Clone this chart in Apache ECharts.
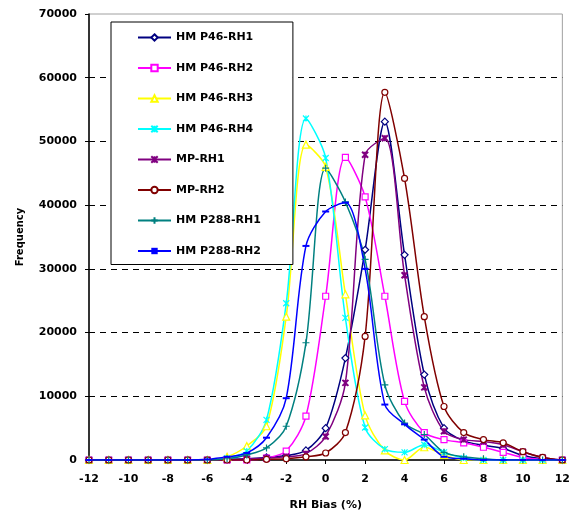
<!DOCTYPE html>
<html><head><meta charset="utf-8">
<script src="https://cdn.jsdelivr.net/npm/echarts@6/dist/echarts.min.js"></script>
<style>html,body{margin:0;padding:0;background:#fff}#c{width:573px;height:516px}</style>
</head><body><div id="c"></div><script>
const xValues = [-12,-11,-10,-9,-8,-7,-6,-5,-4,-3,-2,-1,0,1,2,3,4,5,6,7,8,9,10,11,12];
const seriesNames = ['HM P46-RH1','HM P46-RH2','HM P46-RH3','HM P46-RH4','MP-RH1','MP-RH2','HM P288-RH1','HM P288-RH2'];
const hmP46Rh1 = [0,0,0,0,0,0,0,100,200,400,700,1500,5000,16000,33000,53100,32200,13400,5000,3000,2300,1800,700,200,0];
const hmP46Rh2 = [0,0,0,0,0,0,0,0,0,300,1400,6900,25700,47500,41300,25700,9200,4300,3200,2700,2000,1200,400,100,0];
const hmP46Rh3 = [0,0,0,0,0,0,0,500,2200,5300,22500,49500,46000,26000,7000,1500,0,2000,800,0,0,0,0,0,0];
const hmP46Rh4 = [0,0,0,0,0,0,0,300,1400,6300,24600,53600,47400,22300,5100,1700,1200,2400,1200,300,0,0,0,0,0];
const mpRh1 = [0,0,0,0,0,0,0,0,200,300,500,1000,3700,12100,47900,50500,29000,11400,4500,3200,2900,2400,1300,400,0];
const mpRh2 = [0,0,0,0,0,0,0,0,0,100,200,500,1100,4300,19400,57700,44200,22500,8400,4300,3200,2700,1300,400,0];
const hmP288Rh1 = [0,0,0,0,0,0,0,200,800,1900,5300,18400,45800,40500,31500,11800,5800,4000,1200,500,200,0,0,0,0];
const hmP288Rh2 = [0,0,0,0,0,0,100,500,1100,3500,9700,33600,39000,40400,30000,8700,5600,3200,500,200,0,0,0,0,0];

const allData = [hmP46Rh1,hmP46Rh2,hmP46Rh3,hmP46Rh4,mpRh1,mpRh2,hmP288Rh1,hmP288Rh2];
const colors = ['#000080','#FF00FF','#FFFF00','#00FFFF','#800080','#800000','#008080','#0000FF'];
const asterisk = 'path://M0,0L10,10M10,0L0,10M5,0L5,10';
const plus = 'path://M5,0L5,10M0,5L10,5';
const symbols = ['diamond','rect','triangle',asterisk,asterisk,'circle',plus,'rect'];
const sizes = [7,6,7,6,6,6,7,[7,2]];
const hollow = [true,true,true,false,false,true,false,false];

const chart = echarts.init(document.getElementById('c'));
const series = seriesNames.map((n,i)=>({
  name:n, type:'line', smooth:0.3,
  data: xValues.map((x,j)=>[x, allData[i][j]]),
  color: colors[i],
  symbol: symbols[i], symbolSize: sizes[i], showSymbol:true,
  lineStyle:{color:colors[i], width:1.5},
  itemStyle:{color: hollow[i] ? '#fff' : colors[i], borderColor: colors[i], borderWidth: i===7?0:(i===4?2:1.2)},
  emphasis:{disabled:true},
  animation:false
}));

const fmt = v => String(v);
chart.setOption({
  animation:false,
  backgroundColor:'#fff',
  grid:{left:89, right:6, top:14, bottom:56, show:true, borderColor:'#a0a0a0', borderWidth:1},
  xAxis:{type:'value', min:-12, max:12, interval:2,
    name:'RH Bias (%)', nameLocation:'middle', nameGap:40,
    nameTextStyle:{fontFamily:'DejaVu Sans', fontWeight:'bold', fontSize:11, color:'#000'},
    axisLine:{onZero:false, lineStyle:{color:'#000', width:1.5}},
    axisTick:{show:true, inside:false, length:4, lineStyle:{color:'#000'}},
    axisLabel:{color:'#000', fontFamily:'DejaVu Sans', fontWeight:'bold', fontSize:11, margin:14, formatter:fmt},
    splitLine:{show:false}},
  yAxis:{type:'value', min:0, max:70000, interval:10000,
    name:'Frequency', nameLocation:'middle', nameGap:64, nameRotate:90,
    nameTextStyle:{fontFamily:'DejaVu Sans', fontWeight:'bold', fontSize:10, color:'#000'},
    axisLine:{show:true, onZero:false, lineStyle:{color:'#000', width:1.5}},
    axisTick:{show:true, inside:false, length:4, lineStyle:{color:'#000'}},
    axisLabel:{color:'#000', fontFamily:'DejaVu Sans', fontWeight:'bold', fontSize:11, margin:12, formatter:fmt},
    splitLine:{show:true, showMinLine:false, showMaxLine:false, lineStyle:{color:'#000', type:[6,5], width:1}}},
  legend:{orient:'vertical', left:111, top:22, data:seriesNames,
    backgroundColor:'#fff', borderColor:'#000', borderWidth:1,
    padding:[10,32,8,26], itemGap:19.5, itemWidth:33, itemHeight:8,
    textStyle:{fontFamily:'DejaVu Sans', fontWeight:'bold', fontSize:11, color:'#000'},
    selectedMode:false},
  series: series
});
</script></body></html>
